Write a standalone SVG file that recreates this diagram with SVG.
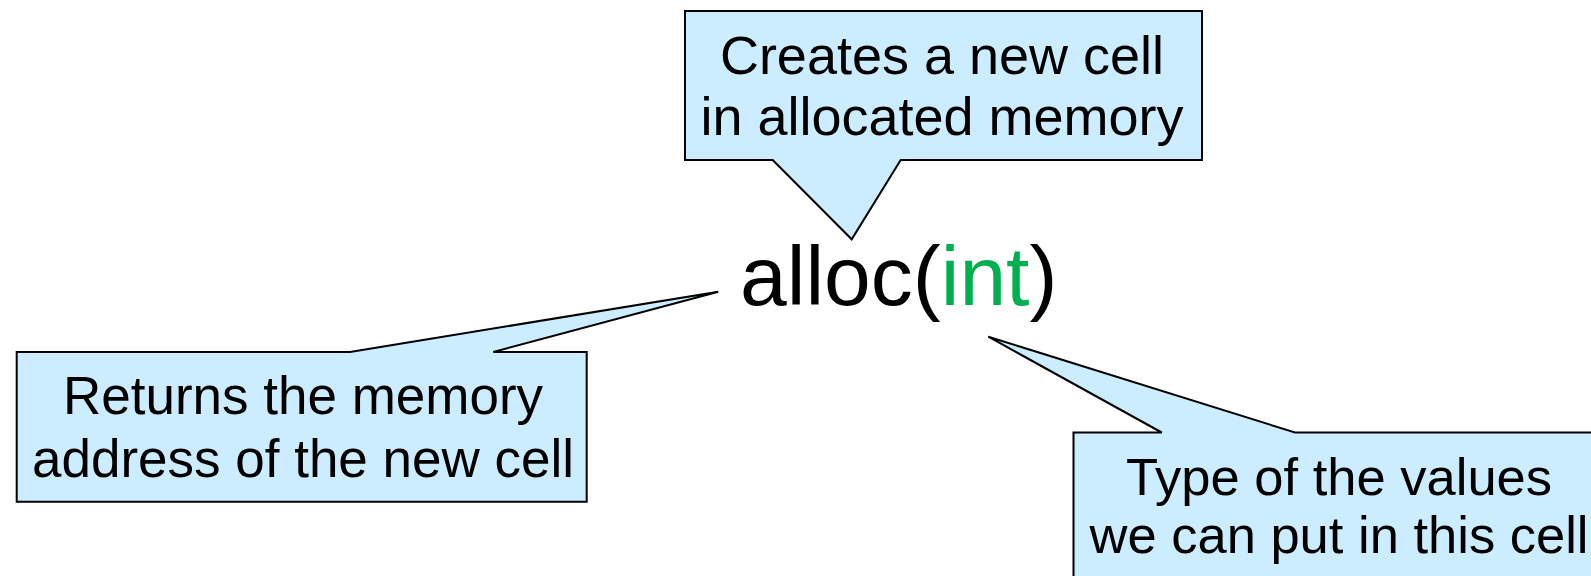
<svg xmlns="http://www.w3.org/2000/svg" width="1591" height="576" viewBox="0 0 1591 576">
  <style>
    .callout { fill: #CCECFF; stroke: #000; stroke-width: 2; stroke-linejoin: miter; }
    .note { font-family: "Liberation Sans", Arial, sans-serif; fill: #000; text-anchor: middle; }
    .code { font-family: "Liberation Sans", Arial, sans-serif; font-size: 84px; fill: #000; }
    .type { fill: #00B050; }
  </style>
  <rect width="1591" height="576" fill="#fff"/>

  <!-- central expression -->
  <g id="expr">
    <text class="code" x="740" y="305">alloc(<tspan class="type">int</tspan>)</text>
  </g>

  <!-- callout shapes: box plus pointer drawn as one outline -->
  <g id="connectors">
    <path id="tail-create" class="callout" d="M685,11 H1202 V160 H900.7 L851.7,239.3 L772.7,160 H685 Z"/>
    <path id="tail-return" class="callout" d="M16.7,352 H350 L718.3,291.7 L493.3,352 H586.7 V501.7 H16.7 Z"/>
    <path id="tail-type" class="callout" d="M1073.5,432.5 H1161.7 L988.3,336.7 L1295,432.5 H1605 V600 H1073.5 Z"/>
  </g>

  <g id="note-create">
    <text class="note" font-size="54" x="942" y="74">Creates a new cell</text>
    <text class="note" font-size="54" x="942" y="135">in allocated memory</text>
  </g>

  <g id="note-return">
    <text class="note" font-size="53" x="303" y="414">Returns the memory</text>
    <text class="note" font-size="53" x="303" y="477">address of the new cell</text>
  </g>

  <g id="note-type">
    <text class="note" font-size="52.5" x="1339" y="495">Type of the values</text>
    <text class="note" font-size="52.5" x="1339" y="553">we can put in this cell</text>
  </g>
</svg>
